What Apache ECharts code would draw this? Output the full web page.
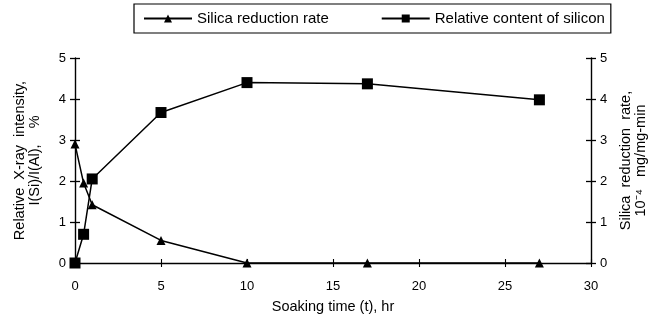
<!DOCTYPE html>
<html>
<head>
<meta charset="utf-8">
<script src="https://cdn.jsdelivr.net/npm/echarts@6/dist/echarts.min.js"></script>
<style>
  html, body { margin: 0; padding: 0; background: #fff; }
  #chart { width: 652px; height: 320px; }
</style>
</head>
<body>
<div id="chart"></div>
<script>
// soaking time, hr
const timeHr = [0, 0.5, 1, 5, 10, 17, 27]
// silica reduction rate, 10^-4 mg/mg-min (right axis)
const silicaRate = [2.9, 1.95, 1.42, 0.55, 0, 0, 0]
// relative content of silicon, I(Si)/I(Al) % (left axis)
const siliconContent = [0, 0.7, 2.05, 3.67, 4.4, 4.37, 3.98]

const font = 'Liberation Sans, Arial, sans-serif'
const ink = '#000'

const pairs = (ys) => timeHr.map((t, i) => [t, ys[i]])

const baseY = {
  type: 'value',
  min: 0,
  max: 5,
  interval: 1,
  splitLine: { show: false },
  axisLine: { show: true, onZero: false, lineStyle: { color: ink, width: 1.4 } },
  axisTick: { show: true, length: 5, lineStyle: { color: ink, width: 1.3 } },
  axisLabel: { color: ink, fontFamily: font, fontSize: 13, margin: 9 },
  nameLocation: 'middle',
  nameRotate: 90,
  nameTextStyle: { color: ink, fontFamily: font, fontSize: 14.5, lineHeight: 15 },
}

// duplicate axes only to draw the inner half of the crossing ticks
const innerY = (position) => ({
  type: 'value',
  position,
  min: 0,
  max: 5,
  interval: 1,
  splitLine: { show: false },
  axisLine: { show: false, onZero: false },
  axisTick: { show: true, inside: true, length: 5, lineStyle: { color: ink, width: 1.3 } },
  axisLabel: { show: false },
})

const option = {
  backgroundColor: '#fff',
  animation: false,
  grid: { left: 75, right: 61, top: 58, bottom: 57, outerBoundsMode: 'none', containLabel: false },
  legend: {
    top: 4,
    left: 134,
    itemGap: 52,
    itemWidth: 48,
    itemHeight: 10,
    padding: [7, 6, 7, 9],
    borderColor: ink,
    borderWidth: 1.2,
    textStyle: { color: ink, fontFamily: font, fontSize: 15 },
    data: ['Silica reduction rate', 'Relative content of silicon'],
  },
  xAxis: [
    {
      type: 'value',
      min: 0,
      max: 30,
      interval: 5,
      name: 'Soaking time (t), hr',
      nameLocation: 'middle',
      nameGap: 36,
      nameTextStyle: { color: ink, fontFamily: font, fontSize: 14.5 },
      splitLine: { show: false },
      axisLine: { onZero: false, lineStyle: { color: ink, width: 1.4 } },
      axisTick: { length: 4, lineStyle: { color: ink, width: 1.1 } },
      axisLabel: { color: ink, fontFamily: font, fontSize: 13, margin: 17 },
    },
    {
      type: 'value',
      position: 'bottom',
      min: 0,
      max: 30,
      interval: 5,
      splitLine: { show: false },
      axisLine: { show: false, onZero: false },
      axisTick: { inside: true, length: 4, lineStyle: { color: ink, width: 1.1 } },
      axisLabel: { show: false },
    },
  ],
  yAxis: [
    Object.assign({}, baseY, {
      position: 'left',
      name: 'Relative  X-ray  intensity,\nI(Si)/I(Al),    %',
      nameGap: 33,
    }),
    Object.assign({}, baseY, {
      position: 'right',
      name: 'Silica  reduction  rate,\n10\u207B\u2074   mg/mg-min',
      nameGap: 22,
    }),
    innerY('left'),
    innerY('right'),
  ],
  series: [
    {
      name: 'Silica reduction rate',
      type: 'line',
      yAxisIndex: 1,
      data: pairs(silicaRate),
      symbol: 'triangle',
      symbolSize: 9,
      itemStyle: { color: ink },
      lineStyle: { color: ink, width: 1.5 },
    },
    {
      name: 'Relative content of silicon',
      type: 'line',
      yAxisIndex: 0,
      data: pairs(siliconContent),
      symbol: 'rect',
      symbolSize: 11,
      itemStyle: { color: ink },
      lineStyle: { color: ink, width: 1.5 },
    },
  ],
}

const chart = echarts.init(document.getElementById('chart'), null, { renderer: 'canvas' })
chart.setOption(option)
</script>
</body>
</html>
